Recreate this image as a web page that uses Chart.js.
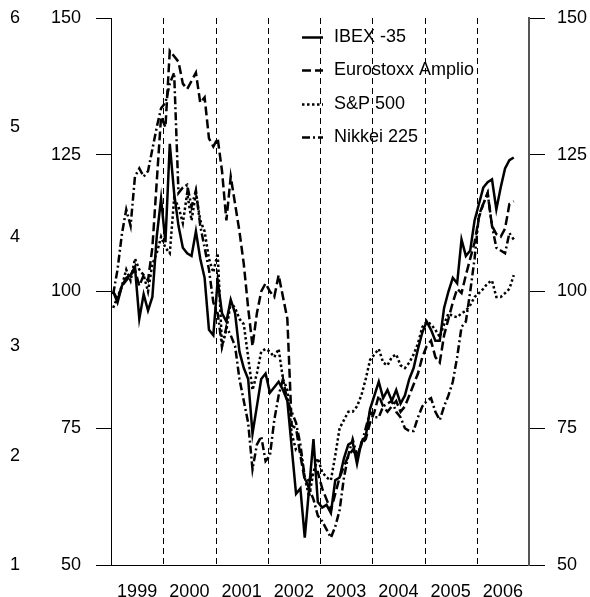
<!DOCTYPE html>
<html>
<head>
<meta charset="utf-8">
<script src="https://cdn.jsdelivr.net/npm/chart.js@4.4.1/dist/chart.umd.min.js"></script>
<style>
  html, body { margin: 0; padding: 0; background: #fff; }
  #wrap { position: relative; width: 590px; height: 597px; }
</style>
</head>
<body>
<div id="wrap"><canvas id="chart" width="590" height="597"></canvas></div>
<script>
// monthly index values, Jan 1999 .. Sep 2006 (base 100)
const startYear = 1999;
const yearLabels = [1999, 2000, 2001, 2002, 2003, 2004, 2005, 2006];
const outerTicks = [1, 2, 3, 4, 5, 6];

const ibex = [
  100, 98, 101, 102.5, 103, 104.5, 95, 99.5, 96.5, 99, 110, 117,
  109, 127, 118, 112, 108, 107, 106.5, 111, 106, 102.5, 93, 92,
  102, 96, 94.5, 98.5, 96, 89, 86, 84, 74, 79, 84, 85,
  81.5, 82.5, 83.5, 82, 80, 71.5, 63, 64, 55, 64, 73, 61.5,
  60.5, 61, 59.5, 65.5, 66, 69.5, 72, 72.5, 68.5, 72.5, 73.5, 78.5,
  81, 83.5, 80.5, 82, 80, 82, 79.5, 81, 84, 86, 89.5, 92.5,
  94.5, 93, 91, 91, 97, 100, 102.5, 101.5, 109.5, 106.5, 107.5, 113,
  116, 119, 120, 120.5, 115, 119, 122.5, 124, 124.5
];
const eurostoxx = [
  100, 98.5, 101, 102, 103, 104, 101, 103, 102, 108, 120, 132,
  130, 144, 143, 142, 138, 137, 138.5, 140, 134.5, 135.5, 128, 126.5,
  128, 122, 113, 121, 116, 111, 105, 97, 90, 96, 100, 101.5,
  100, 99, 103, 99, 95, 75.5, 75, 70, 65.5, 65.5, 67, 67,
  64, 62, 60, 63, 66, 68, 70, 71, 70, 72, 73, 76,
  78, 81, 79, 78, 79, 80, 78, 79, 81, 83, 85, 88,
  90, 91, 88, 87, 92, 95, 98, 100.5, 99.7, 103, 106, 109,
  113.5, 116, 118, 112, 110.5, 110, 111.5, 116, 116.5
];
const sp500 = [
  97, 99, 101, 104, 102, 106, 104, 103, 100, 105, 107, 110,
  108, 107, 117, 115.5, 112.5, 118, 113, 118, 113, 111, 106, 103.5,
  107, 90, 93, 98, 97, 95, 94, 88, 82, 85, 89, 89.5,
  89, 88, 89.5, 84, 82, 74, 71, 71, 66, 62.5, 67, 69.5,
  67, 66, 65.5, 70, 75, 76.5, 78, 78, 79, 81, 84, 87.5,
  88.5, 89.5, 87, 86.5, 88, 88.5, 86.5, 86, 87, 88.5, 90.5, 93.5,
  94.5, 94, 93, 91.7, 94, 96, 95.5, 95.3, 96, 96.5, 97.5, 99,
  99.7, 100.5, 101.5, 102, 99, 99, 99.7, 100.5, 103
];
const nikkei = [
  99.5, 104, 110.5, 115, 112, 121, 122.5, 121, 122, 126, 130, 133.5,
  134.5, 138, 140, 118, 119, 119.5, 115.5, 118.5, 112, 108, 104, 98,
  96, 90, 93.5, 92, 90, 84, 80, 76, 67.5, 72, 73.5, 69,
  70, 76.5, 81, 84, 80, 78, 76, 72, 66, 64, 62, 59,
  58, 56.5, 55, 57, 60, 66, 70, 73, 70, 72, 75, 78,
  77, 77, 79, 79.5, 80, 78, 77, 75, 74.5, 74.5, 77, 79,
  80, 80.5, 78, 76.5, 79, 81, 83.5, 88, 93.5, 94.5, 100, 106,
  114, 116, 118, 112, 108, 107.5, 107, 110.7, 109.5
];

const seriesNames = ["IBEX -35", "Eurostoxx Amplio", "S&P 500", "Nikkei 225"];
const seriesValues = [ibex, eurostoxx, sp500, nikkei];
const seriesDash = [[], [9, 4], [2.5, 2.5], [8, 3, 2, 3]];

const FONT = { family: "'Liberation Sans', Arial, sans-serif", size: 18 };

const toPoints = (values) => values.map((v, i) => ({ x: startYear + (i + 0.5) / 12, y: v }));

// vertical axes: keep label overflow from pushing the plot down
const fixWidth = (w) => (scale) => {
  scale.width = w;
  scale.paddingTop = 0;
  scale.paddingBottom = 0;
};

// dashed year separators behind the lines
const yearLines = {
  id: "yearLines",
  beforeDatasetsDraw(chart) {
    const { ctx, chartArea, scales } = chart;
    ctx.save();
    ctx.strokeStyle = "#000";
    ctx.lineWidth = 1;
    ctx.setLineDash([6, 4]);
    yearLabels.slice(1).forEach((yr) => {
      const x = Math.round(scales.x.getPixelForValue(yr)) + 0.5;
      ctx.beginPath();
      ctx.moveTo(x, chartArea.top);
      ctx.lineTo(x, chartArea.bottom);
      ctx.stroke();
    });
    ctx.restore();
  }
};

// legend inside the plot, no box
const insideLegend = {
  id: "insideLegend",
  afterDatasetsDraw(chart) {
    const { ctx } = chart;
    const x0 = 302, x1 = 323, tx = 334, y0 = 37, step = 33.3;
    ctx.save();
    ctx.font = `${FONT.size}px ${FONT.family}`;
    ctx.textBaseline = "middle";
    ctx.fillStyle = "#000";
    seriesNames.forEach((name, i) => {
      const y = Math.round(y0 + i * step) + 0.5;
      ctx.strokeStyle = "#000";
      ctx.lineWidth = 2.5;
      ctx.setLineDash(seriesDash[i]);
      ctx.beginPath();
      ctx.moveTo(x0, y);
      ctx.lineTo(x1, y);
      ctx.stroke();
      ctx.fillText(name, tx, y);
    });
    ctx.restore();
  }
};

new Chart(document.getElementById("chart"), {
  type: "line",
  data: {
    datasets: seriesNames.map((name, i) => ({
      label: name,
      data: toPoints(seriesValues[i]),
      borderColor: "#000",
      borderWidth: 2.5,
      borderDash: seriesDash[i],
      pointRadius: 0,
      tension: 0,
      fill: false,
      xAxisID: "x",
      yAxisID: "y"
    }))
  },
  options: {
    responsive: false,
    animation: false,
    layout: { padding: { top: 18, right: 0, bottom: 0, left: 0 } },
    plugins: { legend: { display: false }, tooltip: { enabled: false } },
    scales: {
      x: {
        type: "linear",
        position: "bottom",
        min: startYear,
        max: startYear + yearLabels.length,
        afterBuildTicks: (scale) => { scale.ticks = yearLabels.map((yr) => ({ value: yr + 0.5 })); },
        ticks: { callback: (v) => String(Math.floor(v)), font: FONT, color: "#000", padding: 16, autoSkip: false, maxRotation: 0 },
        grid: { display: false, drawTicks: false },
        border: { color: "#000", width: 1 },
        afterFit: (scale) => { scale.height = 32; scale.paddingLeft = 0; scale.paddingRight = 0; }
      },
      y: {
        type: "linear",
        position: "left",
        weight: 0,
        min: 50,
        max: 150,
        ticks: { stepSize: 25, font: FONT, color: "#000", padding: 15 },
        grid: { drawOnChartArea: false, drawTicks: true, tickLength: 15, color: "#000" },
        border: { color: "#000", width: 1 },
        afterFit: fixWidth(81)
      },
      yOuter: {
        type: "linear",
        position: "left",
        weight: 1,
        min: outerTicks[0],
        max: outerTicks[outerTicks.length - 1],
        ticks: { stepSize: 1, font: FONT, color: "#000", padding: 10 },
        grid: { display: false, drawTicks: false },
        border: { display: false },
        afterFit: fixWidth(30)
      },
      yR: {
        type: "linear",
        position: "right",
        min: 50,
        max: 150,
        ticks: { stepSize: 25, font: FONT, color: "#000", padding: 12 },
        grid: { drawOnChartArea: false, drawTicks: true, tickLength: 16, color: "#000" },
        border: { color: "#555", width: 2, dash: [5, 2] },
        afterFit: fixWidth(61)
      }
    }
  },
  plugins: [yearLines, insideLegend]
});
</script>
</body>
</html>
